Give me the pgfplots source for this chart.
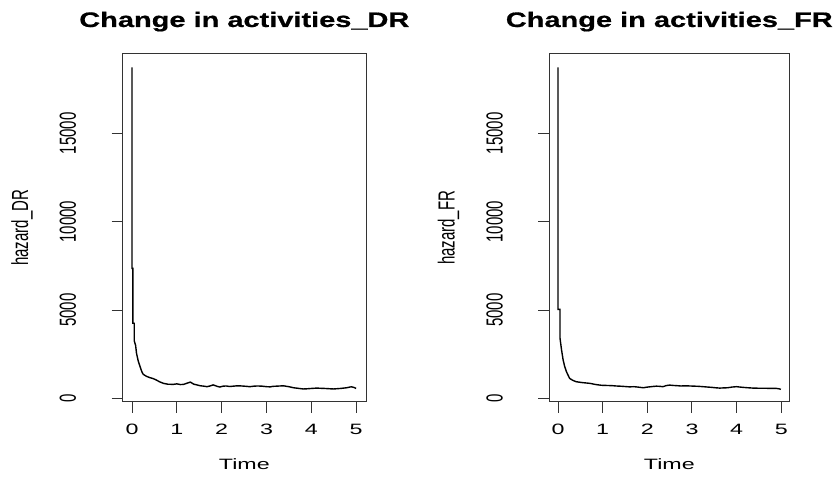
\documentclass[border=0pt]{standalone}
\usepackage{graphicx}
\usepackage{fontspec}
\setmainfont{Liberation Sans}
\newfontfamily\wide{Liberation Sans}[FakeStretch=1.55]
\newfontfamily\titlewide{Liberation Sans Bold}[FakeStretch=1.38, FakeBold=0.7]
\usepackage{pgfplots}
\pgfplotsset{compat=1.18}

\newcommand\lab{\wide\fontsize{15}{18}\selectfont}
\newcommand\vlab[1]{\scalebox{1}[1.55]{\fontsize{15}{18}\selectfont #1}}

\pgfplotsset{
  hazard/.style={
    scale only axis, anchor=south west,
    height=347.7pt,
    ymin=-190, ymax=19500,
    scaled y ticks=false,
    xtick={0,1,2,3,4,5}, xticklabels={0,1,2,3,4,5},
    ytick={0,5000,10000,15000},
    yticklabels={\vlab{0},\vlab{5000},\vlab{10000},\vlab{15000}},
    tick align=outside, tick pos=left,
    major tick length=11pt,
    axis line style={black!80, line width=1pt},
    tick style={black!80, line width=1pt},
    xticklabel style={font=\lab, anchor=base, yshift=-22.3pt},
    yticklabel style={rotate=90, anchor=base, yshift=35.7pt},
    xlabel style={at={(axis description cs:0.5,0)}, anchor=base, yshift=-68.3pt, font=\lab},
    ylabel style={at={(axis description cs:0,0.5)}, anchor=center, yshift=100.7pt},
    title style={at={(axis description cs:0.5,1)}, anchor=base, yshift=21pt,
      font=\titlewide\fontsize{21}{25}\selectfont},
  },
  curve/.style={black, line width=1.4pt, mark=none},
}

\begin{document}
\begin{tikzpicture}[x=1pt,y=1pt]
\path[use as bounding box] (0,0) rectangle (835,478);

\begin{axis}[hazard, at={(122.7pt,76.3pt)}, width=243.3pt,
  xmin=-0.208, xmax=5.22,
  title={Change in activities\_DR}, xlabel={Time}, ylabel={\vlab{hazard\_DR}}]
\addplot[curve] coordinates {
(0,18740) (0,7360) (0.02,7360) (0.02,4250) (0.05,4250) (0.05,3250)
(0.08,3000) (0.10,2550) (0.14,2100) (0.18,1790) (0.22,1500) (0.25,1360)
(0.32,1250) (0.40,1170) (0.47,1120) (0.54,1040) (0.62,930) (0.70,850)
(0.80,800) (0.92,790) (1.0,820) (1.08,780) (1.15,790) (1.22,850) (1.30,920)
(1.38,800) (1.45,760) (1.52,713) (1.6,690) (1.67,660) (1.74,700) (1.81,760) (1.90,680) (1.96,640)
(2.03,690) (2.1,700) (2.18,670) (2.26,690) (2.35,710) (2.45,700) (2.55,680) (2.63,660) (2.72,690) (2.8,700)
(2.9,690) (3.0,660) (3.08,650) (3.15,680) (3.23,690) (3.30,700) (3.38,710) (3.45,680) (3.52,650)
(3.6,600) (3.7,570) (3.82,530) (3.9,540) (4.0,560) (4.06,570)
(4.12,580) (4.2,570) (4.3,560) (4.4,545) (4.49,530) (4.57,545) (4.65,560) (4.72,580) (4.79,600) (4.86,640) (4.9,650)
(4.95,620) (5.0,560)
};
\end{axis}

\begin{axis}[hazard, at={(549.3pt,76.3pt)}, width=240pt,
  xmin=-0.195, xmax=5.18,
  title={Change in activities\_FR}, xlabel={Time}, ylabel={\vlab{hazard\_FR}}]
\addplot[curve] coordinates {
(0,18740) (0,5040) (0.045,5040) (0.045,3400) (0.08,2730) (0.115,2170)
(0.15,1800) (0.19,1500) (0.26,1130) (0.33,1020) (0.41,940) (0.55,890)
(0.71,850) (0.85,780) (0.97,740) (1.08,730) (1.2,720) (1.3,700) (1.38,690) (1.5,670) (1.6,650)
(1.7,660) (1.78,640) (1.91,600) (1.98,630) (2.05,650) (2.12,670) (2.2,690) (2.28,680) (2.35,660) (2.42,720) (2.5,750)
(2.58,730) (2.65,720) (2.75,700) (2.88,710) (2.95,700) (3.05,690) (3.15,680) (3.25,660) (3.35,640) (3.45,620) (3.52,600) (3.62,580)
(3.7,590) (3.8,600) (3.9,640) (4.0,660) (4.07,640) (4.15,620) (4.25,600) (4.37,580) (4.45,575) (4.55,570) (4.65,570) (4.74,566)
(4.82,565) (4.9,560) (4.95,540) (4.99,510)
};
\end{axis}
\end{tikzpicture}
\end{document}
